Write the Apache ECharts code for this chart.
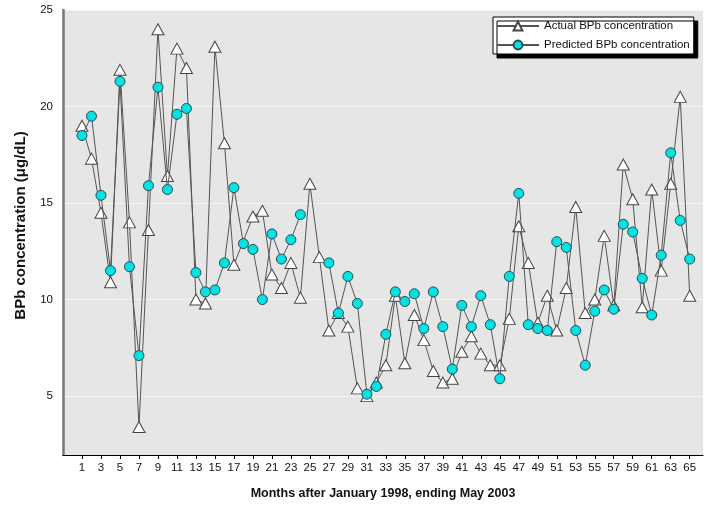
<!DOCTYPE html>
<html>
<head>
<meta charset="utf-8">
<script src="https://cdn.jsdelivr.net/npm/echarts@6/dist/echarts.min.js"></script>
<style>
html,body{margin:0;padding:0;background:#fff;}
#c{width:712px;height:508px;}
</style>
</head>
<body>
<div id="c"></div>
<script>
var months = [1,2,3,4,5,6,7,8,9,10,11,12,13,14,15,16,17,18,19,20,21,22,23,24,25,26,27,28,29,30,31,32,33,34,35,36,37,38,39,40,41,42,43,44,45,46,47,48,49,50,51,52,53,54,55,56,57,58,59,60,61,62,63,64,65];
var actual = [19.0,17.3,14.5,10.9,21.9,14.0,3.4,13.6,24.0,16.4,23.0,22.0,10.0,9.8,23.1,18.1,11.8,null,14.3,14.6,11.3,10.6,11.9,10.1,16.0,12.2,8.4,9.3,8.6,5.4,5.0,5.7,6.6,10.2,6.7,9.2,7.9,6.3,5.7,5.9,7.3,8.1,7.2,6.6,6.6,9.0,13.8,11.9,8.8,10.2,8.4,10.6,14.8,9.3,10.0,13.3,9.7,17.0,15.2,9.6,15.7,11.5,16.0,20.5,10.2];
var predicted = [18.5,19.5,15.4,11.5,21.3,11.7,7.1,15.9,21.0,15.7,19.6,19.9,11.4,10.4,10.5,11.9,15.8,12.9,12.6,10.0,13.4,12.1,13.1,14.4,null,null,11.9,9.3,11.2,9.8,5.1,5.5,8.2,10.4,9.9,10.3,8.5,10.4,8.6,6.4,9.7,8.6,10.2,8.7,5.9,11.2,15.5,8.7,8.5,8.4,13.0,12.7,8.4,6.6,9.4,10.5,9.5,13.9,13.5,11.1,9.2,12.3,17.6,14.1,12.1];
var xTickValues = [1,3,5,7,9,11,13,15,17,19,21,23,25,27,29,31,33,35,37,39,41,43,45,47,49,51,53,55,57,59,61,63,65];
var yTickValues = [5,10,15,20,25];
var seriesNames = ['Actual BPb concentration','Predicted BPb concentration'];
var xTitle = 'Months after January 1998, ending May 2003';
var yTitle = 'BPb concentration (\u03bcg/dL)';

var FONT = "'Liberation Sans Narrow','Arial Narrow','Liberation Sans',sans-serif";

function pairs(vals){
  var out = [];
  for (var i = 0; i < months.length; i++) out.push([months[i], vals[i]]);
  return out;
}

var chart = echarts.init(document.getElementById('c'), null, {renderer:'canvas'});
chart.setOption({
  backgroundColor:'#ffffff',
  animation:false,
  grid:{left:63,right:9,top:10,bottom:53,show:true,backgroundColor:'#e6e6e6',borderWidth:0,containLabel:false},
  legend:{
    orient:'vertical', left:493, top:17,
    backgroundColor:'#ffffff', borderColor:'#000', borderWidth:1,
    shadowColor:'#000', shadowBlur:0, shadowOffsetX:4, shadowOffsetY:4,
    padding:[3,4,3,3], itemGap:7, itemWidth:42, itemHeight:11,
    textStyle:{fontFamily:FONT, fontSize:11.5, color:'#111'},
    data:seriesNames
  },
  xAxis:{
    type:'value', min:-1, max:66.4,
    name:xTitle, nameLocation:'middle', nameGap:32,
    nameTextStyle:{fontFamily:FONT, fontSize:12.5, fontWeight:'bold', color:'#111'},
    axisLine:{show:true, onZero:false, lineStyle:{color:'#000', width:1}},
    axisTick:{show:true, length:4, lineStyle:{color:'#000'}, customValues:xTickValues},
    axisLabel:{fontFamily:FONT, fontSize:11.5, color:'#111', margin:7, customValues:xTickValues},
    splitLine:{show:false}
  },
  yAxis:{
    type:'value', min:1.95, max:25,
    name:yTitle, nameLocation:'middle', nameGap:35,
    nameTextStyle:{fontFamily:FONT, fontSize:15, fontWeight:'bold', color:'#111', padding:[0,0,0,14]},
    axisLine:{show:true, onZero:false, lineStyle:{color:'#777', width:2.5}},
    axisTick:{show:false},
    axisLabel:{fontFamily:FONT, fontSize:11.5, color:'#111', margin:10, customValues:yTickValues},
    splitLine:{show:true, lineStyle:{color:'#f2f2f2', width:1}}
  },
  series:[
    {
      name:seriesNames[0], type:'line', data:pairs(actual), connectNulls:true,
      symbol:'triangle', symbolSize:[12,11], showAllSymbol:true,
      lineStyle:{color:'#555', width:1},
      itemStyle:{color:'#ffffff', borderColor:'#444', borderWidth:1},
      z:2
    },
    {
      name:seriesNames[1], type:'line', data:pairs(predicted), connectNulls:false,
      symbol:'circle', symbolSize:10, showAllSymbol:true,
      lineStyle:{color:'#555', width:1},
      itemStyle:{color:'#00e3e3', borderColor:'#2a4a55', borderWidth:1},
      z:3
    }
  ]
});
</script>
</body>
</html>
